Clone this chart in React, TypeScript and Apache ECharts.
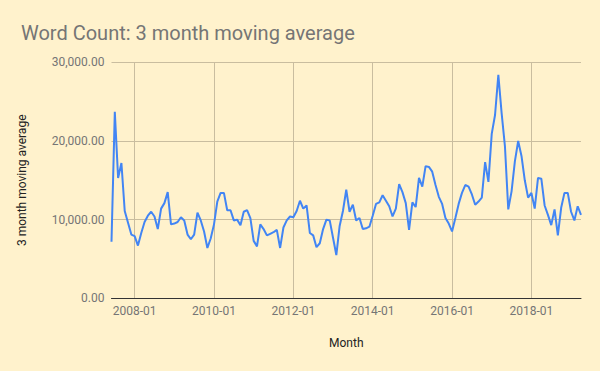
import React, { useEffect, useRef } from "react";
import * as echarts from "echarts";

const TITLE = "Word Count: 3 month moving average";
const Y_NAME = "3 month moving average";
const X_NAME = "Month";
const START_YEAR = 2007;
const START_MONTH = 6;

const movingAverage: number[] = [
  7200, 23700, 15300, 17200, 11100, 9600, 8100, 7900, 6700, 8300,
  9700, 10500, 11000, 10400, 8800, 11400, 12100, 13500, 9400, 9500,
  9700, 10300, 9900, 8100, 7500, 8100, 10900, 9900, 8500, 6400,
  7600, 9400, 12300, 13400, 13400, 11200, 11200, 9900, 10000, 9300,
  11000, 11200, 10200, 7300, 6600, 9400, 8800, 8000, 8200, 8400,
  8700, 6400, 9000, 9900, 10400, 10300, 11100, 12400, 11400, 11800,
  8300, 8000, 6500, 7000, 8800, 10000, 9900, 7700, 5500, 9200,
  11100, 13800, 11000, 11900, 9900, 10200, 8800, 8900, 9100, 10500,
  12000, 12200, 13100, 12400, 11700, 10400, 11400, 14500, 13500, 12100,
  8700, 12200, 11600, 15300, 14200, 16800, 16700, 16100, 14400, 12900,
  12000, 10200, 9500, 8500, 10200, 12000, 13400, 14400, 14200, 13200,
  11900, 12300, 12800, 17300, 14800, 20900, 23300, 28400, 23500, 19300,
  11300, 13600, 17400, 20000, 18100, 15000, 12800, 13400, 11400, 15300,
  15200, 11800, 10600, 9300, 11300, 8000, 11500, 13400, 13400, 11000,
  9900, 11700, 10600,
];

const months: string[] = movingAverage.map((_, i) => {
  const total = START_YEAR * 12 + (START_MONTH - 1) + i;
  const y = Math.floor(total / 12);
  const m = (total % 12) + 1;
  return `${y}-${m < 10 ? "0" + m : m}`;
});

const yTicks = [0, 10000, 20000, 30000];

const isLabelled = (i: number) => months[i] !== undefined && months[i].endsWith("-01") && parseInt(months[i].slice(0, 4)) % 2 === 0;

export default function App() {
  const ref = useRef<HTMLDivElement>(null);
  useEffect(() => {
    document.body.style.margin = "0";
    const chart = echarts.init(ref.current!, undefined, { renderer: "svg" });
    chart.setOption({
      animation: false,
      backgroundColor: "#FFF2CC",
      textStyle: { fontFamily: "Roboto" },
      title: {
        text: TITLE,
        left: 16,
        top: 18,
        textStyle: { fontFamily: "Roboto", fontSize: 20, fontWeight: "normal", color: "#757575" },
      },
      grid: { left: 111.5, right: 19, top: 62.3, bottom: 72.7, containLabel: false },
      xAxis: {
        type: "category",
        data: months,
        boundaryGap: false,
        name: X_NAME,
        nameLocation: "middle",
        nameGap: 39,
        nameTextStyle: { fontFamily: "Roboto", fontSize: 12, color: "#222" },
        axisLine: { show: true, lineStyle: { color: "#333", width: 1 } },
        axisTick: { show: false },
        axisLabel: {
          interval: (i: number) => isLabelled(i),
          margin: 7,
          fontFamily: "Roboto",
          fontSize: 12,
          color: "#757575",
        },
        splitLine: {
          show: true,
          interval: (i: number) => isLabelled(i),
          lineStyle: { color: "#C9BD9F", width: 1 },
        },
      },
      yAxis: {
        type: "value",
        min: yTicks[0],
        max: yTicks[yTicks.length - 1],
        interval: 10000,
        name: Y_NAME,
        nameLocation: "middle",
        nameGap: 84,
        nameTextStyle: { fontFamily: "Roboto", fontSize: 12, color: "#222" },
        axisLine: { show: false },
        axisTick: { show: false },
        axisLabel: {
          margin: 7,
          fontFamily: "Roboto",
          fontSize: 12,
          color: "#757575",
          formatter: (v: number) =>
            v.toLocaleString("en-US", { minimumFractionDigits: 2, maximumFractionDigits: 2 }),
        },
        splitLine: { show: true, lineStyle: { color: "#C9BD9F", width: 1 } },
      },
      series: [
        {
          type: "line",
          data: movingAverage,
          showSymbol: false,
          symbol: "none",
          lineStyle: { color: "#4285F4", width: 2 },
          itemStyle: { color: "#4285F4" },
        },
      ],
    });
    return () => chart.dispose();
  }, []);
  return <div ref={ref} style={{ width: 600, height: 371 }} />;
}
